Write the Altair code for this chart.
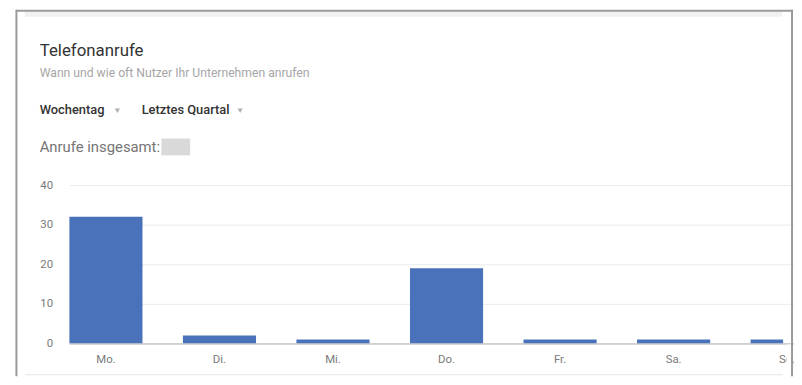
import altair as alt
import pandas as pd

# ---- data ----
days = ["Mo.", "Di.", "Mi.", "Do.", "Fr.", "Sa.", "So."]
calls = [32, 2, 1, 19, 1, 1, 1]
y_ticks = [0, 10, 20, 30, 40]

title_text = "Telefonanrufe"
subtitle_text = "Wann und wie oft Nutzer Ihr Unternehmen anrufen"
filter1_text = "Wochentag"
filter2_text = "Letztes Quartal"
total_text = "Anrufe insgesamt:"

df = pd.DataFrame({"Tag": days, "Anrufe": calls})

W = 733
H = 160
FONT = "Roboto"

bars = alt.Chart(df).mark_bar(color="#4a72bb", clip=True).encode(
    x=alt.X(
        "Tag:N",
        sort=days,
        title=None,
        scale=alt.Scale(range=[12, 774], paddingInner=0.356, paddingOuter=0, round=False),
        axis=alt.Axis(
            labelAngle=0, ticks=False, domain=False, grid=False,
            labelFont=FONT, labelFontSize=11.5, labelColor="#7a7a7a",
            labelPadding=10,
        ),
    ),
    y=alt.Y(
        "Anrufe:Q",
        title=None,
        scale=alt.Scale(domain=[0, 40], nice=False),
        axis=alt.Axis(
            values=y_ticks, ticks=False, domain=False, labelOverlap=False,
            gridColor=alt.condition("datum.value === 0", alt.value("#a8a8a8"), alt.value("#ebebeb")),
            gridWidth=1,
            labelFont=FONT, labelFontSize=11.5, labelColor="#7a7a7a",
            labelPadding=5,
        ),
    ),
)

one = alt.Data(values=[{"k": 0}])


def txt(s, x, y, size, color, weight="normal"):
    return alt.Chart(one).mark_text(
        text=s, align="left", baseline="alphabetic", font=FONT,
        fontSize=size, color=color, fontWeight=weight,
    ).encode(x=alt.value(x), y=alt.value(y))


def tri(x):
    return alt.Chart(one).mark_point(
        shape="triangle-down", filled=True, color="#b0b0b0", size=28, opacity=1
    ).encode(x=alt.value(x), y=alt.value(-75))


def rect(x, x2, y, y2, color):
    return alt.Chart(one).mark_rect(color=color).encode(
        x=alt.value(x), x2=alt.value(x2), y=alt.value(y), y2=alt.value(y2)
    )


title = txt(title_text, -18, -130, 17, "#333333")
subtitle = txt(subtitle_text, -18, -109, 12.3, "#a6a6a6")
f1 = txt(filter1_text, -18, -72, 13, "#333333", 500)
f2 = txt(filter2_text, 85, -72, 13, "#333333", 500)
total = txt(total_text, -18, -33, 15, "#757575")
tri1 = tri(60.5)
tri2 = tri(184.5)

box = rect(105, 134, -47, -30, "#d9d9d9")
top_band = rect(-33, 732, -175, -170, "#f1f1f1")
mask = rect(W + 3.5, 741, H + 1, H + 25, "white")      # screenshot crop on the right
bottom_line = rect(-33, W, 191, 192.2, "#e6e6e6")
border_top = rect(-42, 743, -177, -175, "#9a9a9a")
border_left = rect(-42.5, -40.5, -177, 193, "#9a9a9a")
border_right = rect(741, 743, -177, 193, "#9a9a9a")

chart = alt.layer(
    bars, mask, title, subtitle, f1, f2, tri1, tri2, total, box,
    top_band, bottom_line, border_top, border_left, border_right,
).properties(
    width=W,
    height=H,
    autosize=alt.AutoSizeParams(type="none"),
    padding={"left": 50, "top": 177, "right": 11, "bottom": 32},
    background="white",
).configure_view(strokeWidth=0)

chart.save("out.html", embed_options={"renderer": "svg", "actions": False})
